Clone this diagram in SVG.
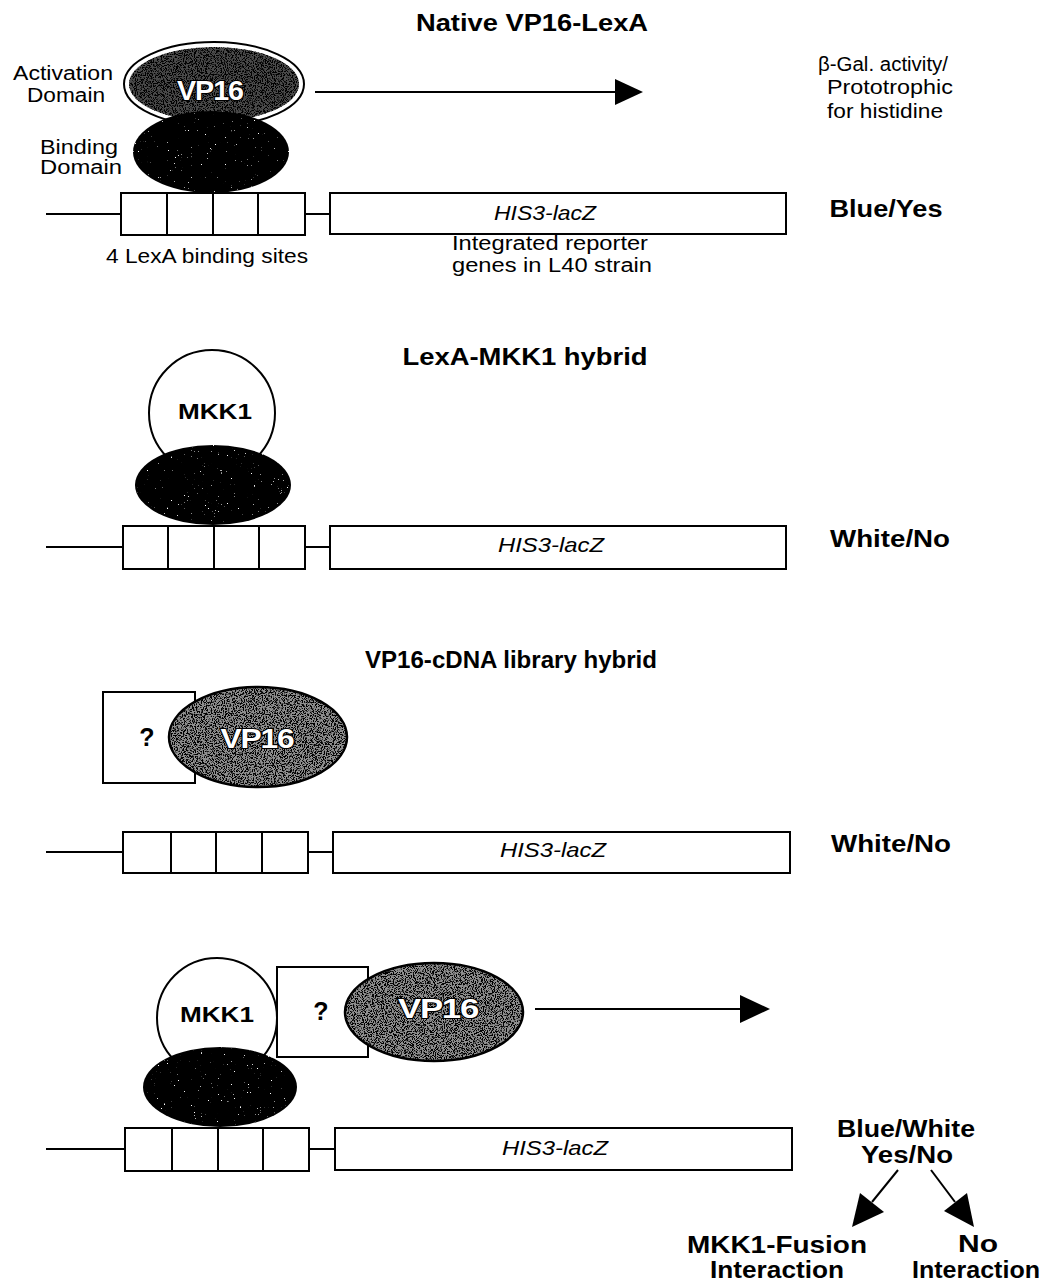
<svg xmlns="http://www.w3.org/2000/svg" width="1047" height="1283" viewBox="0 0 1047 1283">
<style>
  text{font-family:"Liberation Sans",Arial,Helvetica,sans-serif;fill:#000}
  .t{font-size:24px;font-weight:bold}
  .lab{font-size:20px}
  .res{font-size:23px;font-weight:bold}
  .gene{font-size:21px;font-style:italic}
  .prot{font-size:22px;font-weight:bold}
  .q{font-size:25px;font-weight:bold}
  .vp{font-size:28px;font-weight:bold;fill:#fff;stroke:#000;stroke-width:2.2px;paint-order:stroke;letter-spacing:-1px}
  .box{fill:#fff;stroke:#000;stroke-width:2}
  .ln{stroke:#000;stroke-width:2;fill:none}
  .edge{fill:none;stroke:#000;stroke-width:2.5}
  .circ{fill:#fff;stroke:#000;stroke-width:2}
</style>
<defs>
  <filter id="grain" x="-5%" y="-5%" width="110%" height="110%" color-interpolation-filters="sRGB">
    <feTurbulence type="fractalNoise" baseFrequency="0.9" numOctaves="2" seed="4" result="n"/>
    <feColorMatrix in="n" type="matrix" values="0 0 0 0 0  0 0 0 0 0  0 0 0 0 0  9 0 0 0 -4.3" result="d"/>
    <feComposite in="d" in2="SourceGraphic" operator="in" result="dc"/>
    <feMerge><feMergeNode in="SourceGraphic"/><feMergeNode in="dc"/></feMerge>
  </filter>
  <filter id="specks" x="-5%" y="-5%" width="110%" height="110%" color-interpolation-filters="sRGB">
    <feTurbulence type="fractalNoise" baseFrequency="0.7" numOctaves="2" seed="9" result="n"/>
    <feColorMatrix in="n" type="matrix" values="0 0 0 0 1  0 0 0 0 1  0 0 0 0 1  14 0 0 0 -10.4" result="w"/>
    <feComposite in="w" in2="SourceGraphic" operator="in" result="wc"/>
    <feMerge><feMergeNode in="SourceGraphic"/><feMergeNode in="wc"/></feMerge>
  </filter>
</defs>

<!-- ===== Section 1 ===== -->
<g id="title1"><text class="t" x="532" y="31" text-anchor="middle" textLength="232" lengthAdjust="spacingAndGlyphs">Native VP16-LexA</text></g>
<g id="labels1">
  <text class="lab" x="63" y="80" text-anchor="middle" textLength="100" lengthAdjust="spacingAndGlyphs">Activation</text>
  <text class="lab" x="66" y="102" text-anchor="middle" textLength="78" lengthAdjust="spacingAndGlyphs">Domain</text>
  <text class="lab" x="79" y="154" text-anchor="middle" textLength="78" lengthAdjust="spacingAndGlyphs">Binding</text>
  <text class="lab" x="81" y="174" text-anchor="middle" textLength="82" lengthAdjust="spacingAndGlyphs">Domain</text>
</g>
<g id="vp16-1">
  <ellipse cx="214" cy="84" rx="90" ry="42" fill="#fff" stroke="#000" stroke-width="2"/>
  <ellipse cx="214" cy="84" rx="85" ry="37" fill="#4a4a4a" filter="url(#grain)"/>
  <text class="vp" x="210" y="100" text-anchor="middle" textLength="66" lengthAdjust="spacingAndGlyphs">VP16</text>
</g>
<g id="lexa-1">
  <ellipse cx="211" cy="152" rx="78" ry="41" fill="#000" filter="url(#specks)"/>
</g>
<g id="dna1">
  <line class="ln" x1="46" y1="214" x2="121" y2="214"/>
  <rect class="box" x="121" y="193" width="184" height="42"/>
  <line class="ln" x1="167" y1="193" x2="167" y2="235"/>
  <line class="ln" x1="213" y1="193" x2="213" y2="235"/>
  <line class="ln" x1="258" y1="193" x2="258" y2="235"/>
  <line class="ln" x1="305" y1="214" x2="330" y2="214"/>
  <rect class="box" x="330" y="193" width="456" height="41"/>
  <text class="gene" x="545" y="220" text-anchor="middle" textLength="102" lengthAdjust="spacingAndGlyphs">HIS3-lacZ</text>
</g>
<g id="dnalabels1">
  <text class="lab" x="207" y="263" text-anchor="middle" textLength="202" lengthAdjust="spacingAndGlyphs">4 LexA binding sites</text>
  <text class="lab" x="550" y="250" text-anchor="middle" textLength="196" lengthAdjust="spacingAndGlyphs">Integrated reporter</text>
  <text class="lab" x="552" y="272" text-anchor="middle" textLength="200" lengthAdjust="spacingAndGlyphs">genes in L40 strain</text>
</g>
<g id="result1">
  <text class="lab" x="883" y="71" text-anchor="middle" textLength="130" lengthAdjust="spacingAndGlyphs">β-Gal. activity/</text>
  <text class="lab" x="890" y="94" text-anchor="middle" textLength="126" lengthAdjust="spacingAndGlyphs">Prototrophic</text>
  <text class="lab" x="885" y="118" text-anchor="middle" textLength="116" lengthAdjust="spacingAndGlyphs">for histidine</text>
  <text class="res" x="886" y="217" text-anchor="middle" textLength="113" lengthAdjust="spacingAndGlyphs">Blue/Yes</text>
</g>

<!-- ===== Section 2 ===== -->
<g id="title2"><text class="t" x="525" y="365" text-anchor="middle" textLength="245" lengthAdjust="spacingAndGlyphs">LexA-MKK1 hybrid</text></g>
<g id="mkk1-2">
  <circle class="circ" cx="212" cy="413" r="63"/>
  <text class="prot" x="215" y="419" text-anchor="middle" textLength="74" lengthAdjust="spacingAndGlyphs">MKK1</text>
</g>
<g id="lexa-2">
  <ellipse cx="213" cy="485" rx="78" ry="40" fill="#000" filter="url(#specks)"/>
</g>
<g id="dna2">
  <line class="ln" x1="46" y1="547" x2="123" y2="547"/>
  <rect class="box" x="123" y="526" width="182" height="43"/>
  <line class="ln" x1="168" y1="526" x2="168" y2="569"/>
  <line class="ln" x1="214" y1="526" x2="214" y2="569"/>
  <line class="ln" x1="259" y1="526" x2="259" y2="569"/>
  <line class="ln" x1="305" y1="547" x2="330" y2="547"/>
  <rect class="box" x="330" y="526" width="456" height="43"/>
  <text class="gene" x="551" y="552" text-anchor="middle" textLength="106" lengthAdjust="spacingAndGlyphs">HIS3-lacZ</text>
</g>
<g id="result2"><text class="res" x="890" y="547" text-anchor="middle" textLength="120" lengthAdjust="spacingAndGlyphs">White/No</text></g>

<!-- ===== Section 3 ===== -->
<g id="title3"><text class="t" x="511" y="668" text-anchor="middle" textLength="292" lengthAdjust="spacingAndGlyphs">VP16-cDNA library hybrid</text></g>
<g id="unknown-3">
  <rect class="box" x="103" y="692" width="92" height="91"/>
  <text class="q" x="147" y="746" text-anchor="middle">?</text>
</g>
<g id="vp16-3">
  <ellipse cx="258" cy="737" rx="89" ry="50" fill="#8f8f8f" filter="url(#grain)"/>
  <ellipse class="edge" cx="258" cy="737" rx="89" ry="50"/>
  <text class="vp" x="257" y="748" text-anchor="middle" textLength="73" lengthAdjust="spacingAndGlyphs">VP16</text>
</g>
<g id="dna3">
  <line class="ln" x1="46" y1="852" x2="123" y2="852"/>
  <rect class="box" x="123" y="832" width="185" height="41"/>
  <line class="ln" x1="171" y1="832" x2="171" y2="873"/>
  <line class="ln" x1="216" y1="832" x2="216" y2="873"/>
  <line class="ln" x1="262" y1="832" x2="262" y2="873"/>
  <line class="ln" x1="308" y1="852" x2="333" y2="852"/>
  <rect class="box" x="333" y="832" width="457" height="41"/>
  <text class="gene" x="553" y="857" text-anchor="middle" textLength="106" lengthAdjust="spacingAndGlyphs">HIS3-lacZ</text>
</g>
<g id="result3"><text class="res" x="891" y="852" text-anchor="middle" textLength="120" lengthAdjust="spacingAndGlyphs">White/No</text></g>

<!-- ===== Section 4 ===== -->
<g id="mkk1-4">
  <circle class="circ" cx="217" cy="1018" r="60"/>
  <text class="prot" x="217" y="1022" text-anchor="middle" textLength="74" lengthAdjust="spacingAndGlyphs">MKK1</text>
</g>
<g id="lexa-4">
  <ellipse cx="220" cy="1087" rx="77" ry="40" fill="#000" filter="url(#specks)"/>
</g>
<g id="unknown-4">
  <rect class="box" x="277" y="967" width="91" height="90"/>
  <text class="q" x="321" y="1020" text-anchor="middle">?</text>
</g>
<g id="vp16-4">
  <ellipse cx="434" cy="1012" rx="89" ry="49" fill="#8f8f8f" filter="url(#grain)"/>
  <ellipse class="edge" cx="434" cy="1012" rx="89" ry="49"/>
  <text class="vp" x="438" y="1018" text-anchor="middle" textLength="80" lengthAdjust="spacingAndGlyphs">VP16</text>
</g>
<g id="dna4">
  <line class="ln" x1="46" y1="1149" x2="125" y2="1149"/>
  <rect class="box" x="125" y="1128" width="184" height="43"/>
  <line class="ln" x1="172" y1="1128" x2="172" y2="1171"/>
  <line class="ln" x1="218" y1="1128" x2="218" y2="1171"/>
  <line class="ln" x1="263" y1="1128" x2="263" y2="1171"/>
  <line class="ln" x1="309" y1="1149" x2="335" y2="1149"/>
  <rect class="box" x="335" y="1128" width="457" height="42"/>
  <text class="gene" x="555" y="1155" text-anchor="middle" textLength="106" lengthAdjust="spacingAndGlyphs">HIS3-lacZ</text>
</g>
<g id="result4">
  <text class="res" x="906" y="1137" text-anchor="middle" textLength="138" lengthAdjust="spacingAndGlyphs">Blue/White</text>
  <text class="res" x="907" y="1163" text-anchor="middle" textLength="92" lengthAdjust="spacingAndGlyphs">Yes/No</text>
</g>
<g id="outcome-fusion">
  <text class="res" x="777" y="1253" text-anchor="middle" textLength="180" lengthAdjust="spacingAndGlyphs">MKK1-Fusion</text>
  <text class="res" x="777" y="1278" text-anchor="middle" textLength="134" lengthAdjust="spacingAndGlyphs">Interaction</text>
</g>
<g id="outcome-none">
  <text class="res" x="978" y="1252" text-anchor="middle" textLength="40" lengthAdjust="spacingAndGlyphs">No</text>
  <text class="res" x="976" y="1278" text-anchor="middle" textLength="128" lengthAdjust="spacingAndGlyphs">Interaction</text>
</g>

<!-- ===== Connectors ===== -->
<g id="connectors">
  <line class="ln" x1="315" y1="92" x2="617" y2="92"/>
  <polygon points="615,79 643,92 615,105" fill="#000"/>
  <line class="ln" x1="535" y1="1009" x2="742" y2="1009"/>
  <polygon points="740,995 770,1009 740,1023" fill="#000"/>
  <line class="ln" x1="898" y1="1170" x2="872" y2="1202" stroke-width="2.5"/>
  <polygon points="852,1227 860,1193 884,1212" fill="#000"/>
  <line class="ln" x1="931" y1="1170" x2="955" y2="1202" stroke-width="2.5"/>
  <polygon points="974,1227 944,1211 967,1193" fill="#000"/>
</g>
</svg>
